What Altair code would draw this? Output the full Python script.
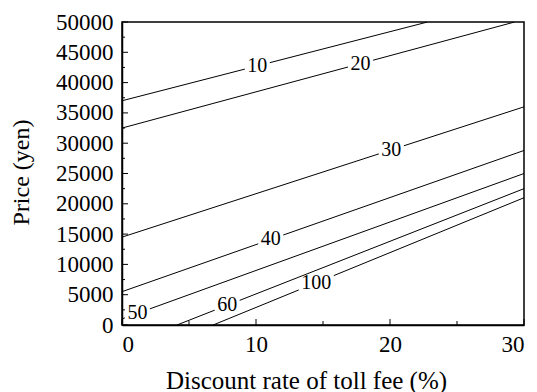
import altair as alt
import pandas as pd

# Contour levels and the end points of each (straight) contour line
levels = [10, 20, 30, 40, 50, 60, 100]
x_start = [0.0, 0.0, 0.0, 0.0, 0.0, 4.1, 6.8]
y_start = [37000, 32500, 14500, 5500, 1000, 0, 0]
x_end = [22.8, 29.3, 30.0, 30.0, 30.0, 30.0, 30.0]
y_end = [50000, 50000, 36000, 28800, 25000, 22500, 21000]
# where each contour label sits along its line (discount rate, %)
label_x = [10.1, 17.8, 20.1, 11.1, 1.15, 7.85, 14.5]

x_ticks_major = [0, 10, 20, 30]
x_ticks_minor = [5, 15, 25]
y_ticks_major = list(range(0, 50001, 5000))
y_ticks_minor = list(range(2500, 50000, 5000))

W, H = 402, 303
X_MAX, Y_MAX = 30, 50000
FONT = "Liberation Serif"
LABEL_SIZE = 20
px_per_x = W / X_MAX


def y_on_line(i, x):
    t = (x - x_start[i]) / (x_end[i] - x_start[i])
    return y_start[i] + t * (y_end[i] - y_start[i])


# split every line around its label so the text sits in a gap
seg_rows, lab_rows = [], []
for i, lev in enumerate(levels):
    half = (len(str(lev)) * 0.25 * LABEL_SIZE + 2.5) / px_per_x
    lx = label_x[i]
    a, b = max(x_start[i], lx - half), min(x_end[i], lx + half)
    for part, (p, q) in enumerate([(x_start[i], a), (b, x_end[i])]):
        if q - p > 1e-6:
            key = f"{lev}-{part}"
            seg_rows.append({"seg": key, "x": p, "y": y_on_line(i, p)})
            seg_rows.append({"seg": key, "x": q, "y": y_on_line(i, q)})
    lab_rows.append({"x": lx, "y": y_on_line(i, lx), "text": str(lev)})

segs = pd.DataFrame(seg_rows)
labs = pd.DataFrame(lab_rows)

xs = alt.Scale(domain=[0, X_MAX], nice=False, zero=False)
ys = alt.Scale(domain=[0, Y_MAX], nice=False, zero=False)

x_axis = alt.Axis(
    values=x_ticks_major, ticks=False, tickSize=0, grid=False, format="d",
    labelOverlap=False, labelPadding=8, labelFontSize=23, labelFont=FONT,
    labelFontWeight="normal", labelColor="black",
    domainColor="black", domainWidth=1.5,
    title="Discount rate of toll fee (%)", titleFont=FONT, titleFontSize=25,
    titleFontWeight="normal", titleColor="black",
    titleX=184, titleY=55, titleBaseline="middle", titleAlign="center",
)
y_axis = alt.Axis(
    values=y_ticks_major, ticks=False, tickSize=0, grid=False, format="d",
    labelOverlap=False, labelPadding=9, labelFontSize=23, labelFont=FONT,
    labelFontWeight="normal", labelColor="black",
    domainColor="black", domainWidth=1.5,
    title="Price (yen)", titleFont=FONT, titleFontSize=24,
    titleFontWeight="normal", titleColor="black",
    titleX=-101, titleY=150, titleAngle=-90, titleBaseline="middle",
    titleAlign="center",
)

lines = alt.Chart(segs).mark_line(color="black", strokeWidth=1, clip=True).encode(
    x=alt.X("x:Q", scale=xs, axis=x_axis),
    y=alt.Y("y:Q", scale=ys, axis=y_axis),
    detail="seg:N",
)

labels = alt.Chart(labs).mark_text(
    font=FONT, fontSize=LABEL_SIZE, fontWeight="normal", color="black",
    align="center", baseline="middle",
).encode(
    x=alt.X("x:Q", scale=xs, axis=x_axis),
    y=alt.Y("y:Q", scale=ys, axis=y_axis),
    text="text:N",
)


# inward tick marks
def xtick(vals, length):
    return alt.Chart(pd.DataFrame({"v": vals})).mark_rule(color="black", strokeWidth=1).encode(
        x=alt.X("v:Q", scale=xs, axis=x_axis), y=alt.value(H), y2=alt.value(H - length)
    )


def ytick(vals, length):
    return alt.Chart(pd.DataFrame({"v": vals})).mark_rule(color="black", strokeWidth=1).encode(
        y=alt.Y("v:Q", scale=ys, axis=y_axis), x=alt.value(0), x2=alt.value(length)
    )


chart = (
    alt.layer(
        lines, labels,
        xtick(x_ticks_major, 6), xtick(x_ticks_minor, 4),
        ytick(y_ticks_major, 6), ytick(y_ticks_minor, 3),
    )
    .properties(
        width=W, height=H,
        autosize=alt.AutoSizeParams(type="none"),
        padding={"left": 122, "top": 22, "right": 13, "bottom": 67},
        background="white",
    )
    .configure_axis(labelOverlap=False)
    .configure_view(stroke="black", strokeWidth=1.5)
)

chart.save("out.html", embed_options={"renderer": "svg", "actions": False})
